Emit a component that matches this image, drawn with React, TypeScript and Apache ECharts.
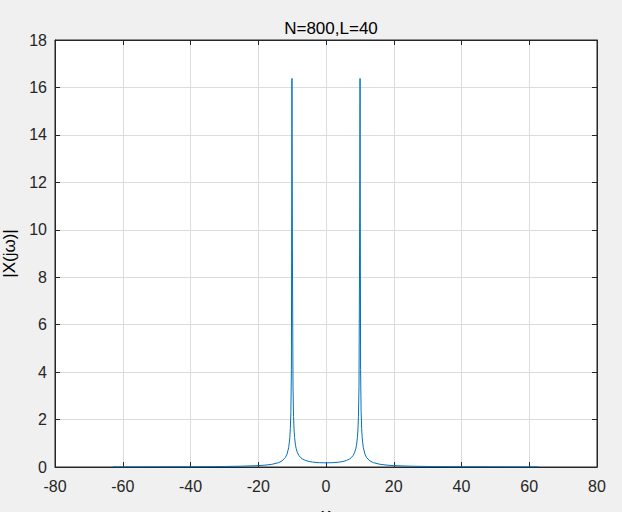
import React, { useEffect, useRef } from "react";
import * as echarts from "echarts";

const titleText = "N=800,L=40";
const xName = "ω";
const yName = "|X(jω)|";

const omega = [
  -62.83, -50, -40, -30, -25, -20, -18, -16, -14, -13, -12, -11.5, -11, -10.681, -10.524, -10.367, -10.21, -10.053,
  -9.896, -9.739, -9.582, -9.425, -9.268, -9.0, -8.8, -8.5, -8, -7.5, -7, -6, -5, -4, -2,
  0,
  2, 4, 5, 6, 7, 7.5, 8, 8.5, 8.8, 9.0, 9.268, 9.425, 9.582, 9.739, 9.896,
  10.053, 10.21, 10.367, 10.524, 10.681, 11, 11.5, 12, 13, 14, 16, 18, 20, 25, 30, 40, 50, 62.67,
];
const magnitude = [
  0.0046, 0.0073, 0.0116, 0.022, 0.033, 0.058, 0.078, 0.112, 0.182, 0.253, 0.397, 0.541, 0.831, 1.24, 1.62, 2.34, 4.12, 16.38,
  8.43, 3.39, 2.13, 1.56, 1.24, 0.919, 0.774, 0.629, 0.485, 0.399, 0.342, 0.273, 0.233, 0.208, 0.182,
  0.175,
  0.182, 0.208, 0.233, 0.273, 0.342, 0.399, 0.485, 0.629, 0.774, 0.919, 1.24, 1.56, 2.13, 3.39, 8.43,
  16.38, 4.12, 2.34, 1.62, 1.24, 0.831, 0.541, 0.397, 0.253, 0.182, 0.112, 0.078, 0.058, 0.033, 0.022, 0.0116, 0.0073, 0.0046,
];

const xMin = -80, xMax = 80, xStep = 20;
const yMin = 0, yMax = 18, yStep = 2;

export default function App() {
  const ref = useRef<HTMLDivElement>(null);
  useEffect(() => {
    if (!ref.current) return;
    const chart = echarts.init(ref.current, null, { renderer: "svg" });
    const font = "Liberation Sans, Arial, Helvetica, sans-serif";
    const axisColor = "#262626";
    const data = omega.map((w, i) => [w, magnitude[i]]);
    chart.setOption({
      animation: false,
      backgroundColor: "#f0f0f0",
      title: {
        text: titleText,
        left: 326,
        textAlign: "center",
        top: 15,
        textStyle: { fontFamily: font, fontSize: 17, fontWeight: "normal", color: "#000" },
      },
      grid: {
        left: 55, right: 25, top: 40, bottom: 45,
        outerBoundsMode: "none",
        containLabel: false,
        show: true, backgroundColor: "#ffffff", borderColor: axisColor, borderWidth: 1,
      },
      xAxis: [
        {
          type: "value", min: xMin, max: xMax, interval: xStep,
          name: xName, nameLocation: "middle", nameGap: 39,
          nameTextStyle: { fontFamily: font, fontSize: 17, color: "#000" },
          axisLine: { show: true, onZero: false, lineStyle: { color: axisColor, width: 1 } },
          axisTick: { show: true, inside: true, length: 5, lineStyle: { color: axisColor } },
          axisLabel: { fontFamily: font, fontSize: 16, color: "#262626", margin: 11 },
          splitLine: { show: true, lineStyle: { color: "#dcdcdc", width: 1 } },
        },
        {
          type: "value", min: xMin, max: xMax, interval: xStep, position: "top",
          axisLine: { show: true, onZero: false, lineStyle: { color: axisColor, width: 1 } },
          axisTick: { show: true, inside: true, length: 5, lineStyle: { color: axisColor } },
          axisLabel: { show: false },
          splitLine: { show: false },
        },
      ],
      yAxis: [
        {
          type: "value", min: yMin, max: yMax, interval: yStep,
          name: yName, nameLocation: "middle", nameGap: 33, nameRotate: 90,
          nameTextStyle: { fontFamily: font, fontSize: 17, color: "#000" },
          axisLine: { show: true, onZero: false, lineStyle: { color: axisColor, width: 1 } },
          axisTick: { show: true, inside: true, length: 5, lineStyle: { color: axisColor } },
          axisLabel: { fontFamily: font, fontSize: 16, color: "#262626", margin: 8 },
          splitLine: { show: true, lineStyle: { color: "#dcdcdc", width: 1 } },
        },
        {
          type: "value", min: yMin, max: yMax, interval: yStep, position: "right",
          axisLine: { show: true, onZero: false, lineStyle: { color: axisColor, width: 1 } },
          axisTick: { show: true, inside: true, length: 5, lineStyle: { color: axisColor } },
          axisLabel: { show: false },
          splitLine: { show: false },
        },
      ],
      series: [
        {
          type: "line",
          data,
          showSymbol: false,
          symbol: "none",
          lineStyle: { color: "#0072bd", width: 1 },
          itemStyle: { color: "#0072bd" },
        },
      ],
    });
    return () => chart.dispose();
  }, []);
  return <div ref={ref} style={{ width: 622, height: 512, position: "fixed", left: 0, top: 0 }} />;
}
